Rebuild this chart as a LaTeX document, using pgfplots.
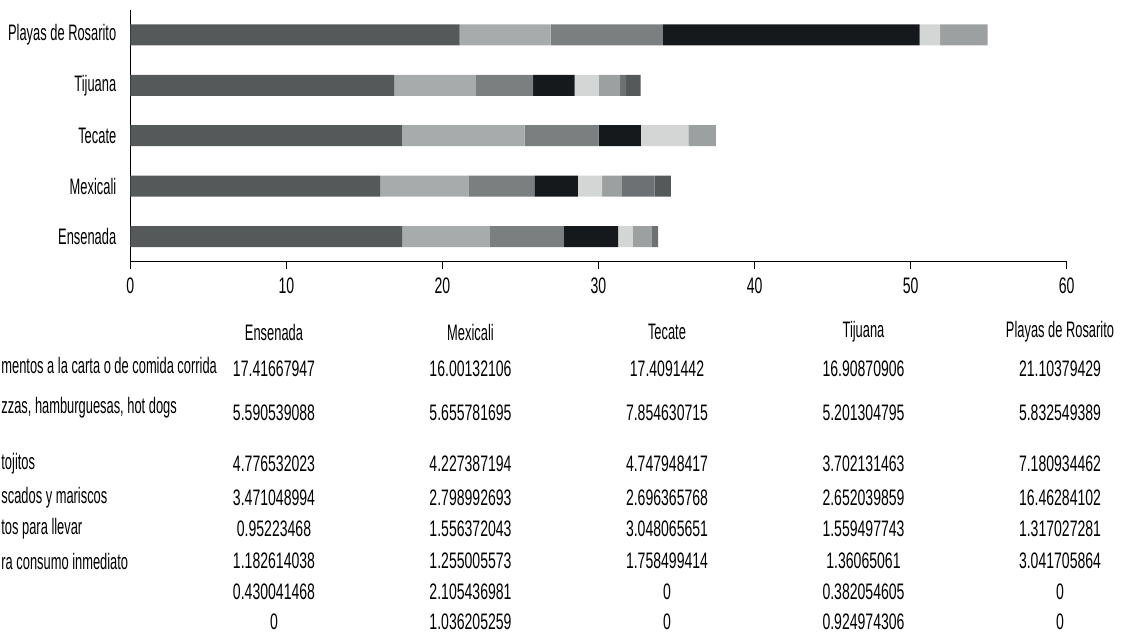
\documentclass[border=0pt]{standalone}
\usepackage{pgfplots}
\pgfplotsset{compat=1.18}
\usepackage{pgfplotstable}
\usepackage{fontspec}
\setmainfont{Liberation Sans}[FakeStretch=0.627]
\newfontfamily\wordfont{Liberation Sans}[FakeStretch=0.575]

\definecolor{c1}{HTML}{55595A}
\definecolor{c2}{HTML}{A8ABAB}
\definecolor{c3}{HTML}{7B7F7F}
\definecolor{c4}{HTML}{15191C}
\definecolor{c5}{HTML}{D4D5D5}
\definecolor{c6}{HTML}{9DA0A1}
\definecolor{c7}{HTML}{6E7173}
\definecolor{c8}{HTML}{55595A}

% rows: 0 Ensenada, 1 Mexicali, 2 Tecate, 3 Tijuana, 4 Playas de Rosarito
\pgfplotstableread{
y s1 s2 s3 s4 s5 s6 s7 s8
0 17.41667947 5.590539088 4.776532023 3.471048994 0.95223468 1.182614038 0.430041468 0
1 16.00132106 5.655781695 4.227387194 2.798992693 1.556372043 1.255005573 2.105436981 1.036205259
2 17.4091442 7.854630715 4.747948417 2.696365768 3.048065651 1.758499414 0 0
3 16.90870906 5.201304795 3.702131463 2.652039859 1.559497743 1.36065061 0.382054605 0.924974306
4 21.10379429 5.832549389 7.180934462 16.46284102 1.317027281 3.041705864 0 0
}\datatable

\begin{document}
\begin{tikzpicture}
\useasboundingbox (0,0) rectangle (565pt,-317pt);
\begin{axis}[
    at={(65.15pt,-130.85pt)}, anchor=south west,
    scale only axis, width=468.2pt, height=126pt,
    xbar stacked, bar width=10.5pt,
    xmin=0, xmax=60, ymin=-0.5, ymax=4.5,
    axis lines*=left,
    axis line style={black, line width=0.6pt},
    xtick={0,10,...,60},
    ytick={0,1,2,3,4},
    yticklabels={Ensenada\hspace{5pt}, Mexicali\hspace{5pt}, Tecate\hspace{6pt}, Tijuana\hspace{6pt}, Playas de Rosarito},
    yticklabel style={font=\fontsize{11.2}{13}\wordfont},
    ytick style={draw=none},
    xtick style={black, line width=0.6pt},
    xticklabel style={yshift=-1pt},
    tick align=outside, major tick length=3.5pt,
    font=\fontsize{11.2}{13}\selectfont,
    /pgf/number format/assume math mode=true,
    every axis plot/.append style={draw=none},
]
\addplot[fill=c1] table[x=s1, y=y] {\datatable};
\addplot[fill=c2] table[x=s2, y=y] {\datatable};
\addplot[fill=c3] table[x=s3, y=y] {\datatable};
\addplot[fill=c4] table[x=s4, y=y] {\datatable};
\addplot[fill=c5] table[x=s5, y=y] {\datatable};
\addplot[fill=c6] table[x=s6, y=y] {\datatable};
\addplot[fill=c7] table[x=s7, y=y] {\datatable};
\addplot[fill=c8] table[x=s8, y=y] {\datatable};
\end{axis}

% data table under the chart
\begin{scope}[x=0.5pt, y=-0.5pt, font=\fontsize{11.2}{13}\selectfont]
\foreach \c/\name in {0/Ensenada, 1/Mexicali, 2/Tecate, 3/Tijuana, 4/Playas de Rosarito}
    \node[font=\fontsize{11.2}{13}\wordfont] at ({274+196.5*\c},332) {\name};
\foreach \r/\yy in {1/369, 2/413, 3/464, 4/498, 5/529, 6/561, 7/592, 8/622} {
    \foreach \c in {0,...,4} {
        \pgfplotstablegetelem{\c}{s\r}\of\datatable
        \node at ({274+196.5*\c},\yy) {\pgfplotsretval};
    }
}
\begin{scope}[font=\fontsize{11.2}{13}\wordfont]
\node[anchor=west, inner sep=0pt] at (1,365) {mentos a la carta o de comida corrida};
\node[anchor=west, inner sep=0pt] at (1,408) {zzas, hamburguesas, hot dogs};
\node[anchor=west, inner sep=0pt] at (1,464) {tojitos};
\node[anchor=west, inner sep=0pt] at (1,498) {scados y mariscos};
\node[anchor=west, inner sep=0pt] at (1,529) {tos para llevar};
\node[anchor=west, inner sep=0pt] at (1,561) {ra consumo inmediato};
\end{scope}
\end{scope}
\end{tikzpicture}
\end{document}
